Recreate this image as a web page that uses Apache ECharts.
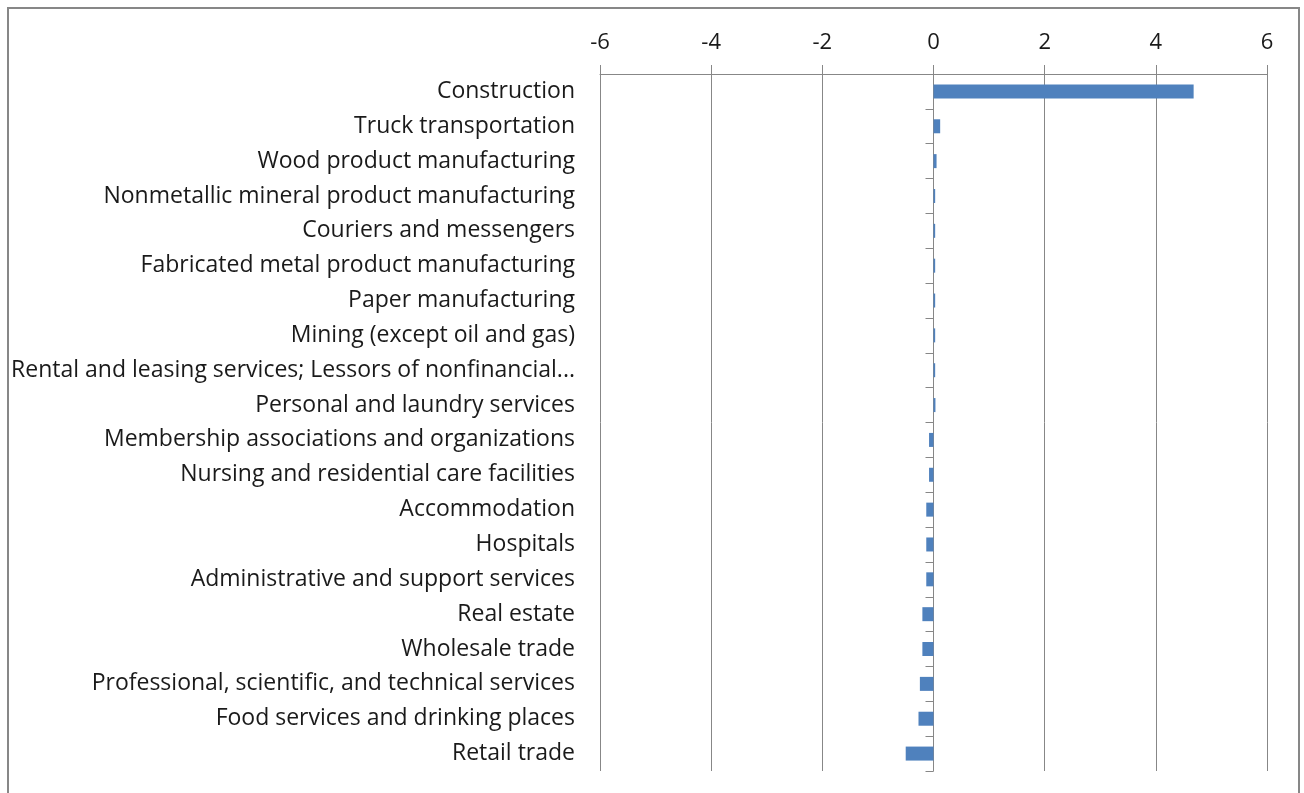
<!DOCTYPE html>
<html>
<head>
<meta charset="utf-8">
<script src="https://cdn.jsdelivr.net/npm/echarts@6/dist/echarts.min.js"></script>
<style>
html,body{margin:0;padding:0;background:#fff;}
#frame{position:absolute;left:7px;top:7px;width:1293px;height:820px;border:2px solid #878787;box-sizing:border-box;}
#chart{position:absolute;left:0;top:0;width:1304px;height:793px;}
</style>
</head>
<body>
<div id="frame"></div>
<div id="chart"></div>
<script>
const categories = [
  "Construction",
  "Truck transportation",
  "Wood product manufacturing",
  "Nonmetallic mineral product manufacturing",
  "Couriers and messengers",
  "Fabricated metal product manufacturing",
  "Paper manufacturing",
  "Mining (except oil and gas)",
  "Rental and leasing services; Lessors of nonfinancial...",
  "Personal and laundry services",
  "Membership associations and organizations",
  "Nursing and residential care facilities",
  "Accommodation",
  "Hospitals",
  "Administrative and support services",
  "Real estate",
  "Wholesale trade",
  "Professional, scientific, and technical services",
  "Food services and drinking places",
  "Retail trade"
];
const values = [4.68, 0.12, 0.055, 0.03, 0.03, 0.03, 0.03, 0.03, 0.03, 0.035,
  -0.08, -0.08, -0.13, -0.13, -0.13, -0.2, -0.2, -0.245, -0.27, -0.5];
const xTicks = { min: -6, max: 6, interval: 2 };

const chart = echarts.init(document.getElementById('chart'), null, {renderer:'canvas'});
const font = '"Open Sans", sans-serif';
chart.setOption({
  backgroundColor: 'transparent',
  animation: false,
  grid: { left: 600, right: 37, top: 74, bottom: 22, containLabel: false },
  xAxis: {
    type: 'value', position: 'top',
    min: xTicks.min, max: xTicks.max, interval: xTicks.interval,
    axisLine: { show: true, lineStyle: { color: '#878787', width: 1 } },
    axisTick: { show: true, inside: false, length: 9, lineStyle: { color: '#878787' } },
    splitLine: { show: true, lineStyle: { color: '#878787', width: 1 } },
    axisLabel: { fontFamily: font, fontSize: 22, color: '#1a1a1a', margin: 20 }
  },
  yAxis: [{
    type: 'category', data: categories, inverse: true, position: 'left',
    axisLine: { show: false, onZero: false },
    axisTick: { show: false },
    splitLine: { show: false },
    axisLabel: { fontFamily: font, fontSize: 23, color: '#1a1a1a', margin: 25 }
  }, {
    type: 'category', data: categories, inverse: true, position: 'left',
    axisLine: { show: true, onZero: true, lineStyle: { color: '#878787', width: 1 } },
    axisTick: { show: true, inside: false, length: 8, alignWithLabel: false, lineStyle: { color: '#878787' } },
    splitLine: { show: false },
    axisLabel: { show: false }
  }],
  series: [{
    type: 'bar', data: values, yAxisIndex: 0, barWidth: 14,
    itemStyle: { color: '#4F81BD' }
  }]
});
</script>
</body>
</html>
